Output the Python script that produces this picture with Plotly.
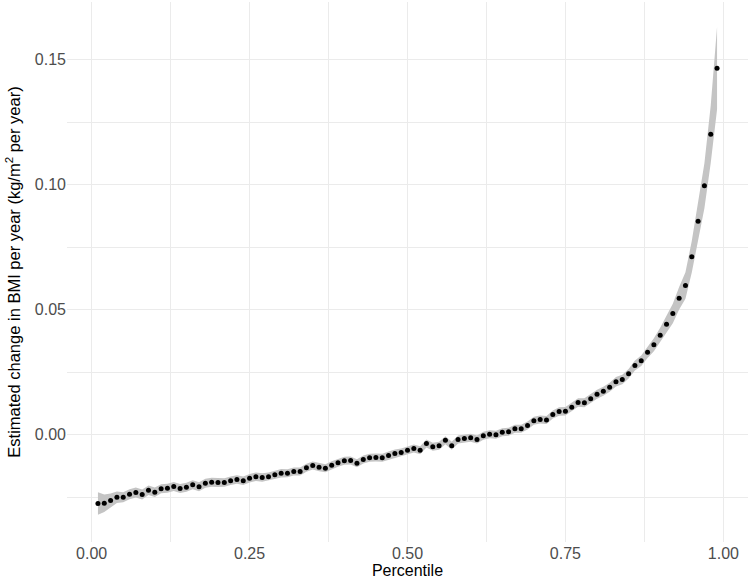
import plotly.graph_objects as go

# percentile grid 0.01 ... 0.99
percentile = [p / 100 for p in range(1, 100)]

estimate = [
    -0.0276, -0.0275, -0.0264, -0.0251, -0.0251, -0.0239, -0.0232, -0.0240, -0.0223, -0.0231,
    -0.0217, -0.0215, -0.0208, -0.0216, -0.0211, -0.0201, -0.0209, -0.0195, -0.0191, -0.0192,
    -0.0192, -0.0185, -0.0180, -0.0185, -0.0175, -0.0169, -0.0172, -0.0169, -0.0161, -0.0155,
    -0.0155, -0.0148, -0.0148, -0.0133, -0.0124, -0.0131, -0.0135, -0.0123, -0.0113, -0.0105,
    -0.0104, -0.0115, -0.0100, -0.0093, -0.0092, -0.0093, -0.0084, -0.0076, -0.0072, -0.0063,
    -0.0056, -0.0063, -0.0036, -0.0049, -0.0045, -0.0023, -0.0045, -0.0020, -0.0016, -0.0013,
    -0.0020, -0.0005, 0.0001, -0.0001, 0.0009, 0.0011, 0.0023, 0.0023, 0.0036, 0.0055,
    0.0060, 0.0058, 0.0080, 0.0092, 0.0093, 0.0109, 0.0128, 0.0127, 0.0143, 0.0161,
    0.0173, 0.0189, 0.0211, 0.0220, 0.0243, 0.0276, 0.0295, 0.0329, 0.0359, 0.0397,
    0.0441, 0.0484, 0.0545, 0.0596, 0.0711, 0.0853, 0.0995, 0.1201, 0.1465,
]

# half width of the confidence band
ci_half = [
    0.0045, 0.0035, 0.0028, 0.0023, 0.0020, 0.0020, 0.0020, 0.0020, 0.0019, 0.0019,
    0.0018, 0.0018, 0.0018, 0.0018, 0.0018, 0.0018, 0.0018, 0.0018, 0.0018, 0.0018,
    0.0017, 0.0017, 0.0017, 0.0017, 0.0017, 0.0017, 0.0017, 0.0017, 0.0017, 0.0017,
    0.0016, 0.0016, 0.0016, 0.0016, 0.0016, 0.0016, 0.0016, 0.0016, 0.0016, 0.0016,
    0.0016, 0.0016, 0.0016, 0.0016, 0.0016, 0.0016, 0.0016, 0.0016, 0.0016, 0.0016,
    0.0016, 0.0016, 0.0016, 0.0016, 0.0016, 0.0016, 0.0016, 0.0016, 0.0016, 0.0016,
    0.0016, 0.0016, 0.0016, 0.0016, 0.0016, 0.0016, 0.0016, 0.0016, 0.0016, 0.0016,
    0.0016, 0.0016, 0.0016, 0.0017, 0.0017, 0.0017, 0.0017, 0.0018, 0.0018, 0.0018,
    0.0018, 0.0018, 0.0019, 0.0019, 0.0019, 0.0020, 0.0021, 0.0023, 0.0026, 0.0030,
    0.0034, 0.0039, 0.0045, 0.0053, 0.0063, 0.0074, 0.0090, 0.0115, 0.0165,
]

x_ticks = [0, 0.25, 0.5, 0.75, 1.0]
x_ticktext = ['0.00', '0.25', '0.50', '0.75', '1.00']
y_ticks = [0, 0.05, 0.10, 0.15]
y_ticktext = ['0.00', '0.05', '0.10', '0.15']

grid = '#EBEBEB'
font = 'Liberation Sans, Arial, sans-serif'

upper = [e + h for e, h in zip(estimate, ci_half)]
lower = [e - h for e, h in zip(estimate, ci_half)]

ribbon = go.Scatter(
    x=percentile + percentile[::-1],
    y=upper + lower[::-1],
    fill='toself', fillcolor='#C4C4C4',
    line={'width': 0}, mode='lines', hoverinfo='skip')
points = go.Scatter(
    x=percentile, y=estimate, mode='markers',
    marker={'color': 'black', 'size': 5})

fig = go.Figure(data=[ribbon, points])
fig.update_layout(
    width=750, height=579,
    margin={'l': 67, 'r': 2, 't': 2, 'b': 37},
    plot_bgcolor='white', paper_bgcolor='white',
    showlegend=False,
    font={'family': font, 'color': 'black'})
fig.update_xaxes(
    range=[-0.039, 1.039], tickvals=x_ticks, ticktext=x_ticktext,
    showline=False, zeroline=False, ticks='', automargin=False,
    gridcolor=grid, gridwidth=1.1,
    minor={'tickvals': [0.125, 0.375, 0.625, 0.875], 'showgrid': True,
           'gridcolor': grid, 'gridwidth': 0.6},
    tickfont={'size': 16, 'color': '#4D4D4D'},
    title={'text': 'Percentile', 'font': {'size': 16}, 'standoff': 0})
fig.update_yaxes(
    range=[-0.043, 0.173], tickvals=y_ticks, ticktext=y_ticktext,
    showline=False, zeroline=False, ticks='', automargin=False,
    gridcolor=grid, gridwidth=1.1,
    minor={'tickvals': [-0.025, 0.025, 0.075, 0.125], 'showgrid': True,
           'gridcolor': grid, 'gridwidth': 0.6},
    tickfont={'size': 16, 'color': '#4D4D4D'},
    title={'text': 'Estimated change in BMI per year (kg/m<sup>2</sup> per year)',
           'font': {'size': 16.5}, 'standoff': 10})
fig.write_html("out.html", config={'displayModeBar': False},
               post_script="document.body.style.margin = '0';")
